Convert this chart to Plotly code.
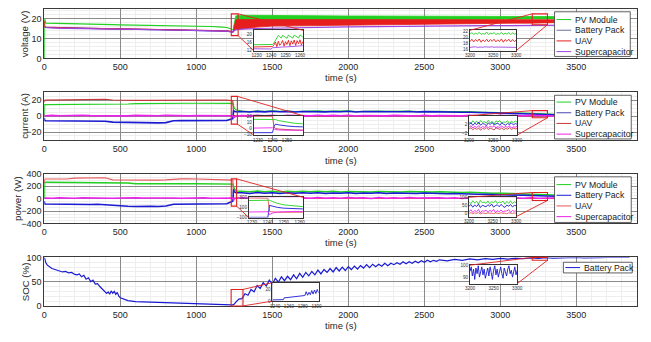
import plotly.graph_objects as go

# ------------------------------------------------------------------ data
# main time grids (s)
t_pre = [0, 2, 10, 50, 100, 150, 200, 250, 300, 350, 400, 450, 500, 550, 600, 650, 700, 750,
         800, 850, 900, 950, 1000, 1050, 1100, 1150, 1200, 1240]
t_band = [1245, 1260, 1300, 1400, 1500, 1600, 1700, 1800, 1900, 2000, 2100, 2200, 2300, 2400,
          2500, 2600, 2700, 2800, 2900, 3000, 3100, 3200, 3300, 3400, 3500, 3600, 3700, 3800, 3850]
t_post = [1245, 1250, 1260] + list(range(1300, 3851, 50))

# voltage (V)
pv_v_pre = [0, 20.0, 17.8, 17.7, 17.6, 17.5, 17.4, 17.3, 17.25, 17.2, 17.1, 17.0, 16.95, 16.9,
            16.8, 16.75, 16.7, 16.65, 16.6, 16.55, 16.5, 16.45, 16.4, 16.3, 16.1, 15.9, 15.6, 14.6]
uav_v_pre = [19.0, 16.0, 15.8, 15.6, 15.5, 15.4, 15.3, 15.2, 15.15, 15.1, 15.0, 14.95, 14.9, 14.8,
             14.75, 14.7, 14.65, 14.6, 14.55, 14.5, 14.45, 14.4, 14.35, 14.3, 14.2, 14.1, 13.9, 13.5]
sc_v_pre = [15.6, 15.6, 15.5, 15.4, 15.3, 15.2, 15.1, 15.05, 15.0, 14.9, 14.85, 14.8, 14.75, 14.7,
            14.65, 14.6, 14.55, 14.5, 14.45, 14.4, 14.35, 14.3, 14.25, 14.2, 14.1, 14.0, 13.8, 13.2]
bat_v_pre = [16.0, 15.9, 15.7, 15.5, 15.4, 15.3, 15.2, 15.1, 15.05, 15.0, 14.9, 14.85, 14.8, 14.7,
             14.65, 14.6, 14.55, 14.5, 14.45, 14.4, 14.35, 14.3, 14.25, 14.2, 14.1, 14.0, 13.8, 13.4]
pv_v_hi = [16.0, 21.5, 21.8, 21.7, 21.6, 21.6, 21.5, 21.5, 21.5, 21.4, 21.4, 21.4, 21.3, 21.3, 21.3,
           21.3, 21.2, 21.2, 21.2, 21.2, 21.1, 21.1, 21.1, 21.1, 21.0, 21.0, 21.0, 21.0, 21.0]
pv_v_lo = [15.0, 18.5, 19.0, 19.2, 19.3, 19.3, 19.4, 19.4, 19.4, 19.5, 19.5, 19.5, 19.5, 19.6, 19.6,
           19.6, 19.6, 19.7, 19.7, 19.7, 19.8, 19.8, 19.9, 20.0, 20.1, 20.2, 20.3, 20.4, 20.5]
uav_v_hi = [15.0, 19.5, 19.6, 19.6, 19.6, 19.6, 19.7, 19.7, 19.7, 19.8, 19.8, 19.8, 19.8, 19.8, 19.8,
            19.8, 19.8, 19.8, 19.8, 19.8, 19.8, 19.8, 19.7, 19.6, 19.5, 19.4, 19.3, 19.2, 19.2]
uav_v_lo = [13.6, 14.5, 15.0, 15.8, 16.3, 16.5, 16.7, 16.8, 16.9, 17.0, 17.1, 17.2, 17.3, 17.4, 17.5,
            17.5, 17.6, 17.6, 17.7, 17.7, 17.8, 17.8, 17.9, 18.0, 18.2, 18.4, 18.6, 18.8, 18.8]
sc_v_post = [13.8, 14.5, 14.8, 15.1, 15.3, 15.5, 15.6, 15.7, 15.8, 15.9, 16.0, 16.1, 16.1, 16.2, 16.3,
             16.3, 16.4, 16.4, 16.5, 16.5, 16.6, 16.6, 16.7, 16.7, 16.8, 16.8, 16.9, 16.9, 16.9]
bat_v_post = [14.0, 16.5, 17.0, 17.5, 17.8, 18.0, 18.1, 18.2, 18.3, 18.4, 18.4, 18.5, 18.5, 18.6, 18.6,
              18.7, 18.7, 18.7, 18.8, 18.8, 18.8, 18.8, 18.8, 18.8, 18.9, 18.9, 18.9, 19.0, 19.0]

# current (A)
uav_i_pre = [17.5, 20.0, 20.2, 20.3, 20.1, 20.2, 20.4, 20.3, 20.5, 20.6, 21.3, 20.4, 20.0, 20.1,
             19.9, 20.0, 20.1, 19.9, 20.0, 20.2, 20.4, 20.3, 20.4, 20.5, 20.3, 20.2, 20.1, 19.5]
pv_i_pre = [0, 14.5, 14.6, 14.6, 14.7, 14.7, 14.8, 14.8, 14.8, 14.9, 15.0, 15.0, 15.1, 15.3,
            15.8, 16.0, 16.0, 16.1, 16.1, 16.2, 16.2, 16.3, 16.3, 16.3, 16.4, 16.4, 16.3, 16.0]
bat_i_pre = [-2, -5.5, -5.8, -5.9, -5.7, -6.0, -6.1, -6.0, -6.2, -6.0, -6.4, -7.5, -7.8, -7.9,
             -8.0, -8.1, -8.3, -8.5, -8.2, -5.8, -5.6, -5.7, -5.5, -5.6, -5.8, -5.7, -5.5, -3.0]
sc_i_pre = [0, 0.8, 0.5, 1.0, 0.6, 0.9, 0.4, 1.1, 0.7, 0.5, 1.0, 0.6, 0.8, 0.4,
            1.0, 0.7, 0.9, 0.5, 1.1, 0.6, 0.8, 0.4, 0.9, 0.7, 1.0, 0.6, 0.8, 0.5]
bat_i_post = [7.0, 6.0, 5.5,
              5.8, 5.2, 6.0, 5.4, 6.1, 5.5, 6.0, 5.3, 5.9, 5.6, 6.2, 5.4, 5.9, 5.5, 6.1, 5.3, 5.8,
              5.6, 6.0, 5.4, 5.8, 5.5, 5.9, 5.3, 5.7, 5.4, 5.6, 5.1, 5.4, 4.9, 5.0, 4.6, 4.5, 4.2,
              4.0, 3.7, 3.4, 3.0, 2.8, 2.3, 2.1, 1.7, 1.4, 1.1, 0.9, 0.8, 0.6, 0.5, 0.4, 0.4, 0.3, 0.3]
pv_i_post = [13.0, 10.0, 8.0,
             6.3, 5.8, 6.5, 6.0, 6.6, 6.1, 6.5, 5.9, 6.4, 6.2, 6.7, 6.0, 6.4, 6.1, 6.6, 5.9, 6.3,
             6.2, 6.5, 6.0, 6.3, 6.1, 6.4, 5.9, 6.2, 6.0, 6.1, 5.7, 5.9, 5.5, 5.6, 5.2, 5.1, 4.8,
             4.6, 4.3, 4.0, 3.7, 3.5, 3.0, 2.8, 2.4, 2.1, 1.8, 1.5, 1.3, 1.1, 0.9, 0.8, 0.7, 0.6, 0.6]
uav_i_post = [1.0, 0.5, 0.3,
              0.2, 0.5, 0.1, 0.4, 0.2, 0.6, 0.1, 0.3, 0.5, 0.2, 0.4, 0.1, 0.5, 0.3, 0.2, 0.6, 0.1,
              0.4, 0.3, 0.2, 0.5, 0.1, 0.4, 0.3, 0.2, 0.5, 0.1, 0.3, 0.4, 0.2, 0.5, 0.1, 0.3, 0.2,
              0.4, 0.1, 0.3, 0.2, 0.5, 0.1, 0.3, 0.2, 0.4, 0.1, 0.3, 0.2, 0.4, 0.1, 0.2, 0.3, 0.2, 0.1]
sc_i_post = [-2.0, -1.0, 0.2,
             0.9, 0.3, 1.2, 0.5, 1.0, 0.2, 1.1, 0.6, 0.9, 0.3, 1.2, 0.4, 1.0, 0.5, 1.1, 0.2, 0.9,
             0.6, 1.2, 0.3, 1.0, 0.5, 0.8, 0.2, 1.1, 0.4, 0.9, 0.6, 1.0, 0.3, 1.2, 0.5, 0.8, 0.2,
             1.0, 0.4, 0.9, 0.3, 1.1, 0.5, 0.8, 0.2, 1.0, 0.4, 0.9, 0.3, 0.8, 0.5, 0.7, 0.4, 0.6, 0.5]

# power (W)
uav_p_pre = [250, 315, 318, 316, 320, 318, 332, 335, 334, 336, 338, 305, 303, 306,
             302, 300, 304, 301, 305, 318, 320, 322, 318, 310, 308, 310, 306, 300]
pv_p_pre = [0, 265, 266, 265, 267, 266, 268, 267, 266, 265, 266, 264, 262, 255,
            242, 240, 241, 239, 240, 242, 241, 240, 239, 240, 241, 240, 238, 235]
bat_p_pre = [-40, -85, -88, -90, -92, -95, -90, -93, -95, -92, -100, -115, -120, -122,
             -125, -118, -122, -125, -120, -90, -88, -86, -85, -88, -86, -84, -82, -40]
sc_p_pre = [0, 8, 12, 6, 14, 9, 5, 13, 10, 7, 15, 8, 11, 6, 13, 9, 12, 5, 14, 10, 7, 12, 9, 13, 6, 11, 8, 10]
pv_p_post = [200, 160, 125,
             118, 110, 122, 112, 120, 108, 119, 113, 121, 110, 118, 112, 120, 109, 117, 113, 119,
             108, 116, 111, 118, 107, 115, 110, 114, 106, 112, 104, 108, 100, 102, 95, 94, 88, 88,
             82, 80, 74, 72, 66, 64, 58, 56, 50, 48, 44, 40, 36, 34, 32, 30, 28]
bat_p_post = [150, 110, 95,
              95, 85, 98, 88, 96, 84, 94, 87, 97, 86, 95, 83, 93, 88, 96, 84, 92, 87, 95, 82,
              91, 86, 93, 84, 90, 83, 88, 80, 85, 77, 80, 72, 72, 66, 66, 60, 58, 54, 50, 45,
              42, 38, 34, 30, 28, 25, 22, 20, 18, 17, 16, 15]
uav_p_post = [20, 8, 5,
              5, 1, 4, 2, 6, 1, 3, 5, 2, 4, 1, 6, 3, 2, 5, 1, 4, 3, 2, 6, 1, 4, 3, 2, 5, 1, 3, 4,
              2, 5, 1, 3, 2, 4, 1, 3, 2, 5, 1, 3, 2, 4, 1, 3, 2, 4, 1, 2, 3, 2, 1, 2]
sc_p_post = [-30, 0, 10,
             14, 5, 18, 8, 16, 4, 17, 9, 15, 6, 19, 7, 16, 5, 18, 10, 14, 4, 17, 8, 15, 6, 18, 9,
             13, 5, 16, 7, 14, 4, 17, 8, 15, 6, 13, 9, 16, 5, 14, 8, 12, 6, 15, 9, 13, 7, 14, 10,
             13, 11, 14, 12]

# state of charge (%)
soc_t = ([0, 5, 10, 20, 30, 40, 50, 60, 80, 100, 120, 140, 160, 180, 200, 215, 230, 245, 260, 275,
          290, 305, 320, 335, 350, 365, 380, 395, 410, 420, 430, 440, 450, 460, 470, 480, 490, 500,
          520, 550, 600, 650, 700, 800, 900, 1000, 1100, 1150, 1200, 1230, 1240, 1250]
         + list(range(1260, 2601, 20)) + list(range(2650, 3851, 50)))
soc = [100, 93, 89, 84, 81, 79, 77, 76, 74, 73, 70, 71, 68, 69, 65, 64, 66, 60, 63, 55,
       58, 50, 53, 45, 46, 40, 36, 32, 26, 29, 24, 31, 26, 30, 24, 28, 20, 17,
       14, 11, 9, 8.5, 7.5, 6.8, 6.3, 5.8, 5.0, 4.2, 3.2, 2.2, 2.0, 4,
       8, 14, 15, 25, 22, 34, 29, 42, 36, 48, 41, 53, 45, 57, 49, 60, 52, 61, 54, 64,
       56, 67, 59, 69, 62, 71, 64, 74, 66, 75, 69, 77, 70, 79, 72, 80, 73, 81, 75, 82,
       76, 83, 78, 85, 79, 86, 81, 86, 82, 88, 83, 88, 85, 89, 86, 91, 87, 91, 88, 92,
       89, 93, 90, 94, 91, 94, 92, 95,
       93, 96, 94, 97, 95, 97.5, 96, 98, 96.5, 98.5, 97.5, 99, 98, 99.5, 98.5, 99.5, 99, 100,
       99, 100, 99.5, 100, 99.5, 100, 100]

# inset data
zv_a_t = [1228, 1232, 1236, 1240, 1241, 1242, 1243, 1244, 1245, 1246, 1247, 1248, 1249, 1250,
          1251, 1252, 1253, 1254, 1255, 1256, 1257, 1258, 1259, 1260, 1261, 1262]
zv_a_pv = [14.9, 14.9, 14.9, 14.9, 15.0, 15.8, 17.0, 18.0, 19.4, 18.8, 18.2, 19.5, 18.9, 18.3,
           18.0, 19.6, 19.0, 18.4, 18.1, 19.6, 19.0, 18.5, 18.2, 19.7, 19.1, 18.6]
zv_a_uav = [13.8, 13.8, 13.8, 13.8, 14.0, 14.8, 16.2, 13.9, 16.6, 14.6, 15.5, 17.0, 14.2, 16.4,
            15.0, 17.1, 14.4, 16.8, 15.2, 17.2, 14.5, 16.9, 15.4, 17.3, 14.8, 16.5]
zv_a_sc = [12.9, 12.9, 12.9, 12.8, 13.4, 13.5, 13.5, 13.6, 13.6, 13.7, 13.7, 13.8, 13.8, 13.8,
           13.9, 13.9, 14.0, 14.0, 14.0, 14.1, 14.1, 14.2, 14.2, 14.3, 14.3, 14.4]
z_b_t = list(range(3200, 3301, 4))
zv_b_pv = [21.0, 21.5, 20.9, 21.3, 21.0, 21.6, 20.9, 21.2, 21.0, 21.7, 20.9, 21.3, 21.1, 21.5,
           20.9, 21.2, 21.0, 21.6, 20.9, 21.3, 21.0, 21.5, 20.9, 21.4, 21.0, 21.2]
zv_b_uav = [18.5, 19.3, 18.4, 19.2, 18.6, 19.4, 18.3, 19.1, 18.5, 19.3, 18.4, 19.2, 18.6, 19.3,
            18.4, 19.1, 18.5, 19.4, 18.3, 19.2, 18.6, 19.3, 18.4, 19.2, 18.5, 19.0]
zv_b_sc = [16.6, 16.7, 16.6, 16.8, 16.6, 16.7, 16.7, 16.6, 16.8, 16.7, 16.6, 16.7, 16.8, 16.6,
           16.7, 16.7, 16.6, 16.8, 16.7, 16.6, 16.7, 16.8, 16.6, 16.7, 16.7, 16.6]

zi_a_t = [1227, 1230, 1235, 1240, 1241, 1242, 1244, 1246, 1250, 1255, 1261]
zi_a_uav = [20, 20, 20.2, 20, 2, 0, -1, -1.5, -2, -2.5, -3]
zi_a_pv = [15, 15, 15, 15, 15, 14.5, 13, 12, 10, 8.5, 7.5]
zi_a_bat = [-7, -7, -6.5, -7, 3, 7, 6, 5, 4, 3, 2.5]
zi_a_sc = [0.5, 0.5, 0.5, 1, -1, -2, -2.5, -3, -3, -3, -3]
zi_b_pv = [3.0, 2.2, 3.5, 2.6, 3.3, 2.1, 3.6, 2.8, 3.1, 2.4, 3.7, 2.5, 3.2, 2.0, 3.4, 2.9, 3.6,
           2.3, 3.0, 2.7, 3.5, 2.2, 3.3, 2.6, 3.4, 2.8]
zi_b_bat = [1.8, 2.6, 1.4, 2.4, 1.7, 2.8, 1.5, 2.2, 2.0, 1.3, 2.5, 1.8, 2.7, 1.6, 2.1, 2.4, 1.4,
            2.6, 1.9, 1.5, 2.3, 1.7, 2.5, 1.6, 2.2, 1.9]
zi_b_sc = [0.6, 1.2, 0.2, 1.0, 0.4, 1.3, 0.1, 0.9, 0.5, 1.1, 0.3, 1.0, 0.6, 1.2, 0.2, 0.8, 0.4,
           1.1, 0.3, 0.9, 0.5, 1.2, 0.2, 0.7, 0.6, 1.0]
zi_b_uav = [-0.2, 0.3, -0.6, 0.1, -0.4, 0.2, -0.8, 0.0, -0.3, 0.4, -0.5, 0.1, -0.2, -0.7, 0.3,
            -0.1, -0.4, 0.2, -0.6, 0.0, -0.3, 0.3, -0.5, 0.1, -0.2, 0.0]

zp_a_t = [1228, 1232, 1236, 1240, 1241, 1243, 1246, 1250, 1255, 1262]
zp_a_uav = [285, 285, 285, 280, 20, 10, 5, 5, 5, 5]
zp_a_pv = [235, 235, 235, 235, 240, 215, 180, 150, 130, 115]
zp_a_bat = [-95, -95, -95, -95, 140, 120, 100, 85, 75, 70]
zp_a_sc = [10, 10, 10, 15, -40, -10, 10, 20, 20, 20]
zp_b_pv = [72, 60, 78, 64, 74, 58, 80, 66, 70, 62, 77, 59, 73, 65, 79, 61, 71, 67, 76, 57, 74,
           63, 78, 60, 72, 66]
zp_b_bat = [45, 55, 38, 52, 42, 57, 36, 50, 46, 40, 54, 44, 58, 39, 48, 53, 41, 56, 43, 37, 51,
            45, 55, 40, 49, 47]
zp_b_sc = [12, 22, 6, 18, 9, 24, 4, 16, 13, 20, 7, 19, 11, 25, 5, 17, 10, 21, 8, 15, 14, 23, 6,
           18, 12, 16]
zp_b_uav = [1, 4, -2, 3, 0, 5, -3, 2, 1, -1, 4, 0, 2, -2, 3, 1, -1, 4, 0, 2, -3, 3, 1, 0, 2, 1]

zs_a_t = [1236, 1240, 1244, 1248, 1252, 1253, 1256, 1260, 1264, 1268, 1272, 1276, 1280, 1283,
          1285, 1287, 1289, 1291, 1293, 1295, 1297, 1299, 1301, 1303]
zs_a_soc = [2, 2, 2, 2, 2.5, 5.5, 6, 6.5, 7, 7.5, 8, 8.5, 9, 9.5, 16, 10, 15, 11, 18, 12, 19,
            13, 20, 14]
zs_b_t = [3200 + 2.5 * k for k in range(41)]
zs_b_soc = [95, 99, 91, 97, 88, 98, 93, 100, 90, 96, 99, 92, 97, 89, 95, 98, 91, 99, 94, 88, 96,
            100, 92, 97, 90, 95, 99, 93, 89, 98, 94, 91, 97, 100, 93, 96, 90, 95, 99, 92, 96]

series_names = ["PV Module", "Battery Pack", "UAV", "Supercapacitor"]
x_ticks = [0, 500, 1000, 1500, 2000, 2500, 3000, 3500]

# ------------------------------------------------------------------ styling
W, H = 651, 342
FONT = "Liberation Sans, Arial, sans-serif"
GREEN = "#22d022"
BLUE = "#1a1ad2"
RED1, RED2, RED3 = "#e61e1e", "#c43a3a", "#e45a5a"
PURPLE = "#9d45e0"
MAGENTA = "#ec22ec"
ZRED = "#e02020"


def fx(p):
    return p / W


def fy(p):
    return 1 - p / H


MAIN_L, MAIN_R = 40, 643
X_RANGE = [0, 3900]
PANELS = [
    dict(top=4, bottom=55, yr=[0, 25], dt=10, minor=2, title="voltage (V)", tx=20, tl=75),
    dict(top=90, bottom=139, yr=[-30, 30], dt=20, minor=5, title="current (A)", tx=19, tl=160),
    dict(top=174, bottom=225, yr=[-400, 400], dt=200, minor=50, title="power (W)", tx=12.5, tl=245),
    dict(top=260, bottom=310, yr=[0, 100], dt=50, minor=10, title="SOC (%)", tx=21, tl=330),
]


def dpx(x):
    return MAIN_L + (x - X_RANGE[0]) / (X_RANGE[1] - X_RANGE[0]) * (MAIN_R - MAIN_L)


def dpy(panel, y):
    p = PANELS[panel]
    lo, hi = p["yr"]
    return p["bottom"] - (y - lo) / (hi - lo) * (p["bottom"] - p["top"])


fig = go.Figure()


def axn(i):
    return ("x" if i == 1 else f"x{i}"), ("y" if i == 1 else f"y{i}")


def line(i, x, y, color, width=1.2):
    n = min(len(x), len(y))
    xa, ya = axn(i)
    fig.add_trace(go.Scatter(x=list(x[:n]), y=list(y[:n]), mode="lines", xaxis=xa, yaxis=ya,
                             line=dict(color=color, width=width), showlegend=False,
                             hoverinfo="skip"))


def band(i, x, hi, lo, color):
    n = min(len(x), len(hi), len(lo))
    xa, ya = axn(i)
    fig.add_trace(go.Scatter(x=list(x[:n]) + list(x[:n])[::-1],
                             y=list(hi[:n]) + list(lo[:n])[::-1], mode="lines",
                             fill="toself", fillcolor=color, xaxis=xa, yaxis=ya,
                             line=dict(color=color, width=0.8), showlegend=False,
                             hoverinfo="skip"))


# panel 1: voltage
line(1, t_pre + t_band, bat_v_pre + bat_v_post, BLUE)
line(1, t_pre, pv_v_pre, GREEN)
band(1, t_band, pv_v_hi, pv_v_lo, GREEN)
line(1, t_pre, uav_v_pre, RED1)
band(1, t_band, uav_v_hi, uav_v_lo, RED1)
line(1, t_pre + t_band, sc_v_pre + sc_v_post, PURPLE)
# panel 2: current
line(2, t_pre + t_post, pv_i_pre + pv_i_post, GREEN)
line(2, t_pre + t_post, uav_i_pre + uav_i_post, RED2)
line(2, t_pre + t_post, bat_i_pre + bat_i_post, BLUE, 1.6)
line(2, t_pre + t_post, sc_i_pre + sc_i_post, MAGENTA, 1.6)
# panel 3: power
line(3, t_pre + t_post, pv_p_pre + pv_p_post, GREEN, 1.5)
line(3, t_pre + t_post, uav_p_pre + uav_p_post, RED3)
line(3, t_pre + t_post, bat_p_pre + bat_p_post, BLUE, 1.5)
line(3, t_pre + t_post, sc_p_pre + sc_p_post, MAGENTA, 1.5)
# panel 4: SOC
line(4, soc_t, soc, BLUE, 1.2)

# insets: (panel, box px (L,T,R,B), xrange, yrange, xticks, yticks, rect data, links, traces)
INSETS = [
    dict(panel=0, box=(253, 26, 303, 47), xr=[1228, 1262], yr=[12, 22], xt=[1230, 1240, 1250, 1260],
         yt=[12, 16, 20], rect=(1230, 1275, 11.5, 22.5), links=[("tr", "tr"), ("br", "bl")],
         tr=[(zv_a_t, zv_a_sc, PURPLE), (zv_a_t, zv_a_pv, GREEN), (zv_a_t, zv_a_uav, RED1)]),
    dict(panel=0, box=(473, 26, 520, 47), xr=[3200, 3300], yr=[15.5, 22.3], xt=[3200, 3250, 3300],
         yt=[16, 18, 20, 22], rect=(3210, 3310, 17, 22.5), links=[("tl", "tl"), ("br", "br")],
         tr=[(z_b_t, zv_b_pv, GREEN), (z_b_t, zv_b_uav, RED1), (z_b_t, zv_b_sc, PURPLE)]),
    dict(panel=1, box=(253, 114, 303, 134), xr=[1227, 1261], yr=[-11, 21], xt=[1230, 1240, 1250],
         yt=[-10, 0, 10, 20], rect=(1230, 1270, -10, 25), links=[("tr", "tr"), ("br", "bl")],
         tr=[(zi_a_t, zi_a_uav, RED2), (zi_a_t, zi_a_pv, GREEN), (zi_a_t, zi_a_bat, BLUE),
             (zi_a_t, zi_a_sc, MAGENTA)]),
    dict(panel=1, box=(472, 114, 521, 134), xr=[3200, 3300], yr=[-3, 5.8], xt=[3200, 3250, 3300],
         yt=[-2, 2], rect=(3210, 3310, -2, 7), links=[("tl", "tl"), ("br", "br")],
         tr=[(z_b_t, zi_b_pv, GREEN), (z_b_t, zi_b_bat, BLUE), (z_b_t, zi_b_uav, RED2),
             (z_b_t, zi_b_sc, MAGENTA)]),
    dict(panel=2, box=(248, 198, 303, 219), xr=[1228, 1262], yr=[-100, 300], xt=[1230, 1240, 1250, 1260],
         yt=[-100, 100, 300], rect=(1230, 1265, -120, 320), links=[("tr", "tr"), ("br", "bl")],
         tr=[(zp_a_t, zp_a_uav, RED3), (zp_a_t, zp_a_pv, GREEN), (zp_a_t, zp_a_bat, BLUE),
             (zp_a_t, zp_a_sc, MAGENTA)]),
    dict(panel=2, box=(472, 198, 520, 218), xr=[3200, 3300], yr=[-20, 100], xt=[3200, 3250, 3300],
         yt=[0, 50, 100], rect=(3210, 3310, -30, 100), links=[("tl", "tl"), ("br", "br")],
         tr=[(z_b_t, zp_b_pv, GREEN), (z_b_t, zp_b_bat, BLUE), (z_b_t, zp_b_uav, RED3),
             (z_b_t, zp_b_sc, MAGENTA)]),
    dict(panel=3, box=(272, 286, 319, 305), xr=[1236, 1303], yr=[0, 31.6], xt=[1240, 1260, 1280, 1300],
         yt=[0, 20], rect=(1229, 1307, 0, 34), links=[("tr", "tl"), ("br", "bl")],
         tr=[(zs_a_t, zs_a_soc, BLUE)]),
    dict(panel=3, box=(473, 268, 521, 287), xr=[3200, 3300], yr=[84.3, 100.5], xt=[3200, 3250, 3300],
         yt=[90, 100], rect=(3210, 3310, 94, 100), links=[("tl", "tl"), ("br", "br")],
         tr=[(zs_b_t, zs_b_soc, BLUE)]),
]

layout = dict(width=W, height=H, margin=dict(l=0, r=0, t=0, b=0), paper_bgcolor="white",
              plot_bgcolor="white", showlegend=False, font=dict(family=FONT, color="#262626"))
annotations, shapes = [], []

for k, p in enumerate(PANELS):
    i = k + 1
    xk = "xaxis" if i == 1 else f"xaxis{i}"
    yk = "yaxis" if i == 1 else f"yaxis{i}"
    layout[xk] = dict(domain=[fx(MAIN_L), fx(MAIN_R)], range=X_RANGE, anchor=axn(i)[1],
                      tickmode="array", tickvals=x_ticks, ticks="", showline=True, mirror=True,
                      linecolor="#3a3a3a", linewidth=1, showgrid=True, gridcolor="#8a8a8a",
                      gridwidth=1, zeroline=False, tickfont=dict(size=9, color="#262626"),
                      minor=dict(tickmode="linear", tick0=0, dtick=100, showgrid=True,
                                 gridcolor="#eeeeee", gridwidth=1, ticks=""))
    layout[yk] = dict(domain=[fy(p["bottom"]), fy(p["top"])], range=p["yr"], anchor=axn(i)[0],
                      tickmode="linear", tick0=0, dtick=p["dt"], ticks="", showline=True,
                      mirror=True, linecolor="#3a3a3a", linewidth=1, showgrid=True,
                      gridcolor="#8a8a8a", gridwidth=1, zeroline=False,
                      tickfont=dict(size=9, color="#262626"),
                      minor=dict(tickmode="linear", tick0=0, dtick=p["minor"], showgrid=True,
                                 gridcolor="#eeeeee", gridwidth=1, ticks=""))
    annotations.append(dict(text=p["title"], x=fx(p["tx"]), y=fy((p["top"] + p["bottom"]) / 2),
                            xref="paper", yref="paper", textangle=-90, showarrow=False,
                            font=dict(size=9.7, color="#262626"), xanchor="center",
                            yanchor="middle"))
    annotations.append(dict(text="time (s)", x=fx((MAIN_L + MAIN_R) / 2), y=fy(p["tl"]),
                            xref="paper", yref="paper", showarrow=False,
                            font=dict(size=9.5, color="#262626"), xanchor="center",
                            yanchor="middle"))

for j, ins in enumerate(INSETS):
    n = 5 + j
    L, T, R, B = ins["box"]
    layout[f"xaxis{n}"] = dict(domain=[fx(L), fx(R)], range=ins["xr"], anchor=f"y{n}",
                               tickmode="array", tickvals=ins["xt"], ticks="", showline=True,
                               mirror=True, linecolor="#333", linewidth=0.8, showgrid=False,
                               zeroline=False, tickfont=dict(size=4.6, color="#333"))
    layout[f"yaxis{n}"] = dict(domain=[fy(B), fy(T)], range=ins["yr"], anchor=f"x{n}",
                               tickmode="array", tickvals=ins["yt"], ticks="", showline=True,
                               mirror=True, linecolor="#333", linewidth=0.8, showgrid=False,
                               zeroline=False, tickfont=dict(size=4.6, color="#333"))
    for (tx, ty, col) in ins["tr"]:
        line(n, tx, ty, col, 0.9)
    x0, x1, y0, y1 = ins["rect"]
    pnl = ins["panel"]
    rc = {"tl": (dpx(x0), dpy(pnl, y1)), "tr": (dpx(x1), dpy(pnl, y1)),
          "bl": (dpx(x0), dpy(pnl, y0)), "br": (dpx(x1), dpy(pnl, y0))}
    bc = {"tl": (L, T), "tr": (R, T), "bl": (L, B), "br": (R, B)}
    shapes.append(dict(type="rect", xref="paper", yref="paper", x0=fx(rc["tl"][0]),
                       x1=fx(rc["br"][0]), y0=fy(rc["br"][1]), y1=fy(rc["tl"][1]),
                       line=dict(color=ZRED, width=1.1), layer="above"))
    for a, b in ins["links"]:
        shapes.append(dict(type="line", xref="paper", yref="paper", x0=fx(rc[a][0]),
                           y0=fy(rc[a][1]), x1=fx(bc[b][0]), y1=fy(bc[b][1]),
                           line=dict(color=ZRED, width=0.9), layer="above"))

# legends (drawn as boxes with sample lines and text)
LEGENDS = [
    dict(box=(559, 7, 636, 53), rows=[15, 26, 37, 48], cols=[GREEN, "#6e6e9a", RED1, PURPLE],
         names=series_names),
    dict(box=(559, 93, 637, 138), rows=[100, 111, 122, 133], cols=[GREEN, "#4a4ab0", RED2, MAGENTA],
         names=series_names),
    dict(box=(559, 177, 637, 224), rows=[185, 196, 207, 218], cols=[GREEN, BLUE, RED3, MAGENTA],
         names=series_names),
    dict(box=(568, 265, 638, 276), rows=[270.5], cols=[BLUE], names=["Battery Pack"]),
]
for lg in LEGENDS:
    L, T, R, B = lg["box"]
    shapes.append(dict(type="rect", xref="paper", yref="paper", x0=fx(L), x1=fx(R), y0=fy(B),
                       y1=fy(T), fillcolor="white", line=dict(color="#3a3a3a", width=0.8),
                       layer="above"))
    for r, c, nm in zip(lg["rows"], lg["cols"], lg["names"]):
        shapes.append(dict(type="line", xref="paper", yref="paper", x0=fx(L + 2), x1=fx(L + 17),
                           y0=fy(r), y1=fy(r), line=dict(color=c, width=1), layer="above"))
        annotations.append(dict(text=nm, x=fx(L + 18.5), y=fy(r), xref="paper", yref="paper",
                                showarrow=False, xanchor="left", yanchor="middle",
                                font=dict(size=8.7, color="#1a1a1a")))

layout["annotations"] = annotations
layout["shapes"] = shapes
fig.update_layout(**layout)
fig.write_html("out.html")
